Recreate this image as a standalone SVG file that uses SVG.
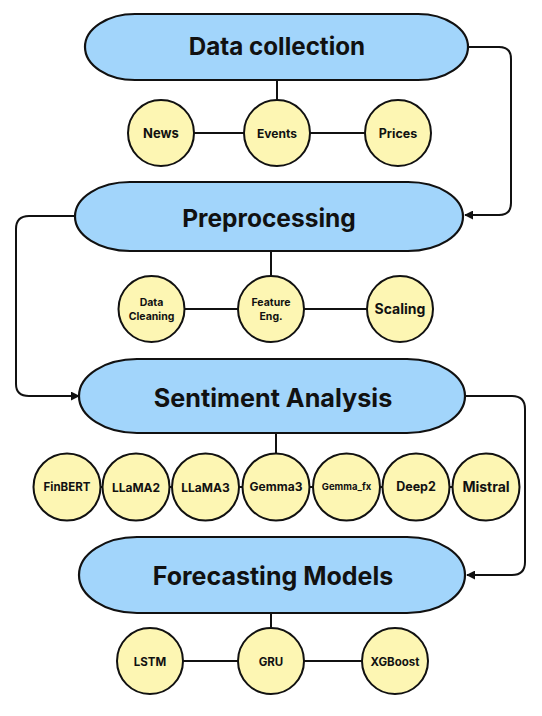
<svg xmlns="http://www.w3.org/2000/svg" width="542" height="716" viewBox="0 0 542 716">
<style>
.pill{fill:#a2d5fb;stroke:#111;stroke-width:2.2}
.c{fill:#fdf6b3;stroke:#111;stroke-width:2}
.ln{fill:none;stroke:#111;stroke-width:2}
.t{font-family:Inter,"Liberation Sans",sans-serif;font-weight:700;fill:#111;text-anchor:middle}
</style>
<defs>
<marker id="ar" viewBox="0 0 10 10" refX="9" refY="5" markerWidth="9" markerHeight="9" markerUnits="userSpaceOnUse" orient="auto"><path d="M0,0 L10,5 L0,10 z" fill="#111"/></marker>
</defs>
<rect width="542" height="716" fill="#fff"/>
<g id="connectors">
<path class="ln" d="M468,47 H499 Q511,47 511,59 V203 Q511,215 499,215 H465" marker-end="url(#ar)"/>
<path class="ln" d="M75,216 H29 Q16,216 16,229 V384 Q16,396 29,396 H79" marker-end="url(#ar)"/>
<path class="ln" d="M465,396 H512 Q525,396 525,409 V562 Q525,575 512,575 H467" marker-end="url(#ar)"/>
<path class="ln" d="M277,80 V100 M161,133 H244 M310,133 H365"/>
<path class="ln" d="M271,251 V276 M151,309 H238 M304,309 H367"/>
<path class="ln" d="M276,433 V454 M67,487 H486"/>
<path class="ln" d="M271,613 V628 M150,661 H238 M304,661 H362"/>
</g>
<g id="data-collection"><rect class="pill" x="85" y="14" width="383" height="66" rx="50" ry="33"/><text class="t" x="277" y="55" font-size="24.2">Data collection</text></g>
<g id="news"><circle class="c" cx="161" cy="133" r="33"/><text class="t" x="161" y="138" font-size="13">News</text></g>
<g id="events"><circle class="c" cx="277" cy="133" r="33"/><text class="t" x="277" y="138" font-size="12">Events</text></g>
<g id="prices"><circle class="c" cx="398" cy="133" r="33"/><text class="t" x="398" y="138" font-size="12.5">Prices</text></g>
<g id="preprocessing"><rect class="pill" x="75" y="182" width="388" height="69" rx="55" ry="34.5"/><text class="t" x="269" y="227" font-size="24.5">Preprocessing</text></g>
<g id="data-cleaning"><circle class="c" cx="151.5" cy="309" r="33"/><text class="t" x="151.5" y="305.5" font-size="10.5">Data</text><text class="t" x="151.5" y="320" font-size="10.5">Cleaning</text></g>
<g id="feature-eng"><circle class="c" cx="271" cy="309" r="33"/><text class="t" x="271" y="305.5" font-size="10.5">Feature</text><text class="t" x="271" y="320" font-size="10.5">Eng.</text></g>
<g id="scaling"><circle class="c" cx="400" cy="309" r="33"/><text class="t" x="400" y="314" font-size="14">Scaling</text></g>
<g id="sentiment-analysis"><rect class="pill" x="79" y="359" width="386" height="74" rx="58" ry="37"/><text class="t" x="273" y="407" font-size="25.2">Sentiment Analysis</text></g>
<g id="finbert"><circle class="c" cx="67" cy="487" r="33.5"/><text class="t" x="67" y="491" font-size="11.5">FinBERT</text></g>
<g id="llama2"><circle class="c" cx="136" cy="487" r="33.5"/><text class="t" x="136" y="492" font-size="12">LLaMA2</text></g>
<g id="llama3"><circle class="c" cx="205.5" cy="487" r="33.5"/><text class="t" x="205.5" y="492" font-size="12">LLaMA3</text></g>
<g id="gemma3"><circle class="c" cx="276" cy="487" r="33.5"/><text class="t" x="276" y="491" font-size="12">Gemma3</text></g>
<g id="gemma-fx"><circle class="c" cx="346.5" cy="487" r="33.5"/><text class="t" x="346.5" y="490" font-size="9.5">Gemma_fx</text></g>
<g id="deep2"><circle class="c" cx="416" cy="487" r="33.5"/><text class="t" x="416" y="491" font-size="12.5">Deep2</text></g>
<g id="mistral"><circle class="c" cx="486" cy="487" r="33.5"/><text class="t" x="486" y="492" font-size="14">Mistral</text></g>
<g id="forecasting-models"><rect class="pill" x="79" y="537" width="386" height="76" rx="58" ry="38"/><text class="t" x="273" y="585" font-size="25">Forecasting Models</text></g>
<g id="lstm"><circle class="c" cx="150" cy="661" r="33"/><text class="t" x="150" y="665.5" font-size="11.5">LSTM</text></g>
<g id="gru"><circle class="c" cx="271" cy="661" r="33"/><text class="t" x="271" y="665.5" font-size="11.5">GRU</text></g>
<g id="xgboost"><circle class="c" cx="395" cy="661" r="33"/><text class="t" x="395" y="665.5" font-size="11.5">XGBoost</text></g>
</svg>
